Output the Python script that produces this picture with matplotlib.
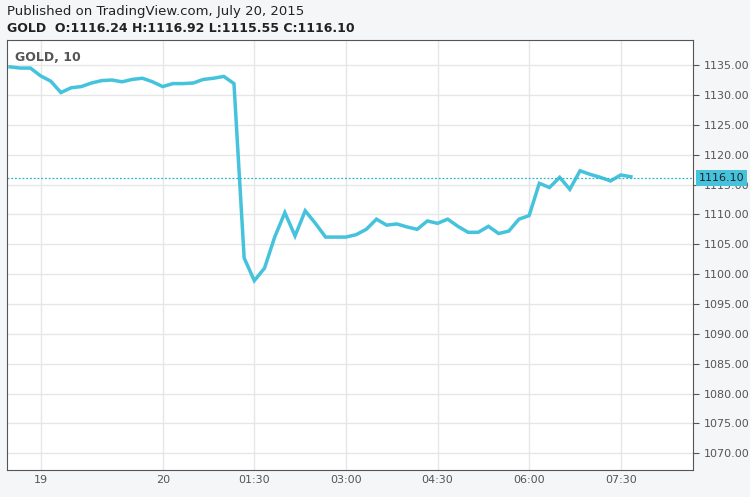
import matplotlib.pyplot as plt

# valori di chiusura ogni 10 minuti
prices = [1134.7, 1134.5, 1134.5, 1133.2, 1132.3, 1130.4, 1131.2, 1131.4, 1132.0, 1132.4,
          1132.5, 1132.2, 1132.6, 1132.8, 1132.2, 1131.4, 1131.9, 1131.9, 1132.0, 1132.6,
          1132.8, 1133.1, 1131.9, 1102.7, 1098.9, 1101.0, 1106.2, 1110.3, 1106.4, 1110.6,
          1108.5, 1106.2, 1106.2, 1106.2, 1106.6, 1107.5, 1109.2, 1108.2, 1108.4, 1107.9,
          1107.5, 1108.9, 1108.5, 1109.2, 1108.0, 1107.0, 1107.0, 1108.0, 1106.8, 1107.2,
          1109.2, 1109.8, 1115.2, 1114.5, 1116.2, 1114.2, 1117.3, 1116.7, 1116.2, 1115.6,
          1116.6, 1116.3, 1116.1]
prices = prices[:62]
start_index = -15
xs = list(range(start_index, start_index + len(prices)))

tick_pos = [-12, 0, 9, 18, 27, 36, 45]
tick_labels = ["19", "20", "01:30", "03:00", "04:30", "06:00", "07:30"]
y_ticks = list(range(1070, 1136, 5))
last = 1116.10

fig = plt.figure(figsize=(7.5, 4.97), dpi=100, facecolor="#f4f6f8")
ax = fig.add_axes([7 / 750, 27 / 497, 686 / 750, 430 / 497])
ax.set_facecolor("white")

ax.plot(xs, prices, color="#45c3dc", lw=2.5, solid_joinstyle="miter")
ax.axhline(last, color="#26b6d0", lw=0.9, ls=(0, (1.5, 1.5)))

ax.set_xlim(-15.3, 52.1)
ax.set_ylim(1067.2, 1139.2)
ax.set_xticks(tick_pos)
ax.set_xticklabels(tick_labels)
ax.set_yticks(y_ticks)
ax.set_yticklabels([f"{v:.2f}" for v in y_ticks])
ax.yaxis.tick_right()
ax.grid(True, color="#e6e6e6", lw=1)
ax.tick_params(labelsize=8, colors="#555555", length=4, width=0.8)
ax.tick_params(axis="x", length=0)
for s in ax.spines.values():
    s.set_color("#555555")
    s.set_linewidth(0.8)

ax.text(last, last, "", transform=ax.transData)
ax.annotate(f"{last:.2f}", xy=(1.0, last), xycoords=("axes fraction", "data"),
            xytext=(4, 0), textcoords="offset points", va="center", ha="left",
            fontsize=8, color="#222222",
            bbox=dict(boxstyle="square,pad=0.25", fc="#45c3dc", ec="none"))

ax.text(0.012, 0.975, "GOLD, 10", transform=ax.transAxes, fontsize=9,
        fontweight="bold", color="#555555", va="top")
fig.text(7 / 750, 1 - 12 / 497, "Published on TradingView.com, July 20, 2015",
         fontsize=9.5, color="#222222", va="center")
fig.text(7 / 750, 1 - 28 / 497, "GOLD  O:1116.24 H:1116.92 L:1115.55 C:1116.10",
         fontsize=9, fontweight="bold", color="#222222", va="center")

fig.savefig("out.png", dpi=100, facecolor=fig.get_facecolor())
